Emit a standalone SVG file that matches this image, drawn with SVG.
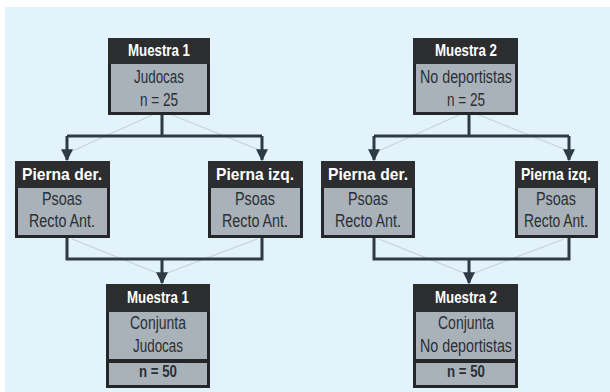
<svg xmlns="http://www.w3.org/2000/svg" width="610" height="392" viewBox="0 0 610 392">
<defs>
<marker id="ah" viewBox="0 0 10 10" refX="9" refY="5" markerWidth="4" markerHeight="4" orient="auto" markerUnits="strokeWidth">
<path d="M0,0 L10,5 L0,10 Z" fill="#2f3a44"/>
</marker>
<style>
.body{fill:#a9b1b9;stroke:#24272a;stroke-width:3}
.hdr{fill:#2c2d2f}
.ht{font-family:"Liberation Sans",Arial,sans-serif;font-weight:bold;font-size:16.5px;fill:#ffffff;text-anchor:middle}
.bt{font-family:"Liberation Sans",Arial,sans-serif;font-size:17.5px;fill:#2a2f36;text-anchor:middle}
.nb{font-family:"Liberation Sans",Arial,sans-serif;font-weight:bold;font-size:17px;fill:#2a2f36;text-anchor:middle}
.c{fill:none;stroke:#2f3a44;stroke-width:3}
.ca{fill:none;stroke:#2f3a44;stroke-width:3;marker-end:url(#ah)}
.f{fill:none;stroke:#c6d3dc;stroke-width:1.2}
</style>
</defs>
<rect x="5" y="7" width="605" height="385" fill="#e2f3fc"/>

<g id="connectors">
<path class="f" d="M152,115 L68,153 M172,115 L262,151"/>
<path class="f" d="M459,115 L374,153 M479,115 L569,151"/>
<path class="f" d="M72,239 L162,275 M257,239 L162,275"/>
<path class="f" d="M379,239 L469,275 M564,239 L469,275"/>
<path class="c" d="M162,115 V136 M67,136 H262"/>
<path class="ca" d="M67,136 V160"/>
<path class="ca" d="M262,136 V160"/>
<path class="c" d="M469,115 V136 M374,136 H569"/>
<path class="ca" d="M374,136 V160"/>
<path class="ca" d="M569,136 V160"/>
<path class="c" d="M67,238 V259 H262 V238"/>
<path class="ca" d="M162,259 V283"/>
<path class="c" d="M374,238 V259 H569 V238"/>
<path class="ca" d="M469,259 V283"/>
</g>

<g id="muestra1">
<rect class="body" x="109.5" y="39.5" width="99" height="74"/>
<rect class="hdr" x="108" y="38" width="102" height="26"/>
<text class="ht" x="159" y="56" textLength="62" lengthAdjust="spacingAndGlyphs">Muestra 1</text>
<text class="bt" x="159" y="83" textLength="50" lengthAdjust="spacingAndGlyphs">Judocas</text>
<text class="bt" x="159" y="106" textLength="38" lengthAdjust="spacingAndGlyphs">n = 25</text>
</g>

<g id="muestra2">
<rect class="body" x="414.5" y="39.5" width="102" height="74"/>
<rect class="hdr" x="413" y="38" width="105" height="26"/>
<text class="ht" x="466" y="56" textLength="62" lengthAdjust="spacingAndGlyphs">Muestra 2</text>
<text class="bt" x="466" y="83" textLength="92" lengthAdjust="spacingAndGlyphs">No deportistas</text>
<text class="bt" x="466" y="106" textLength="38" lengthAdjust="spacingAndGlyphs">n = 25</text>
</g>

<g id="m1-der">
<rect class="body" x="16.5" y="162.5" width="92" height="74"/>
<rect class="hdr" x="15" y="161" width="95" height="27"/>
<text class="ht" x="62" y="180" textLength="80" lengthAdjust="spacingAndGlyphs">Pierna der.</text>
<text class="bt" x="62" y="205" textLength="40" lengthAdjust="spacingAndGlyphs">Psoas</text>
<text class="bt" x="62" y="227" textLength="66" lengthAdjust="spacingAndGlyphs">Recto Ant.</text>
</g>

<g id="m1-izq">
<rect class="body" x="209.5" y="162.5" width="92" height="74"/>
<rect class="hdr" x="208" y="161" width="95" height="27"/>
<text class="ht" x="255" y="180" textLength="78" lengthAdjust="spacingAndGlyphs">Pierna izq.</text>
<text class="bt" x="255" y="205" textLength="40" lengthAdjust="spacingAndGlyphs">Psoas</text>
<text class="bt" x="255" y="227" textLength="66" lengthAdjust="spacingAndGlyphs">Recto Ant.</text>
</g>

<g id="m2-der">
<rect class="body" x="322.5" y="162.5" width="91" height="74"/>
<rect class="hdr" x="321" y="161" width="94" height="27"/>
<text class="ht" x="368" y="180" textLength="80" lengthAdjust="spacingAndGlyphs">Pierna der.</text>
<text class="bt" x="368" y="205" textLength="40" lengthAdjust="spacingAndGlyphs">Psoas</text>
<text class="bt" x="368" y="227" textLength="66" lengthAdjust="spacingAndGlyphs">Recto Ant.</text>
</g>

<g id="m2-izq">
<rect class="body" x="516.5" y="162.5" width="80" height="74"/>
<rect class="hdr" x="515" y="161" width="83" height="27"/>
<text class="ht" x="556" y="180" textLength="70" lengthAdjust="spacingAndGlyphs">Pierna izq.</text>
<text class="bt" x="556" y="205" textLength="40" lengthAdjust="spacingAndGlyphs">Psoas</text>
<text class="bt" x="556" y="227" textLength="64" lengthAdjust="spacingAndGlyphs">Recto Ant.</text>
</g>

<g id="conjunta1">
<rect class="body" x="107.5" y="285.5" width="101" height="101"/>
<rect class="hdr" x="106" y="284" width="104" height="28"/>
<line x1="106" y1="361" x2="210" y2="361" stroke="#24272a" stroke-width="4"/>
<text class="ht" x="158" y="303" textLength="62" lengthAdjust="spacingAndGlyphs">Muestra 1</text>
<text class="bt" x="158" y="329" textLength="56" lengthAdjust="spacingAndGlyphs">Conjunta</text>
<text class="bt" x="158" y="352" textLength="50" lengthAdjust="spacingAndGlyphs">Judocas</text>
<text class="nb" x="158" y="377" textLength="38" lengthAdjust="spacingAndGlyphs">n = 50</text>
</g>

<g id="conjunta2">
<rect class="body" x="414.5" y="285.5" width="102" height="101"/>
<rect class="hdr" x="413" y="284" width="105" height="28"/>
<line x1="413" y1="361" x2="518" y2="361" stroke="#24272a" stroke-width="4"/>
<text class="ht" x="466" y="303" textLength="62" lengthAdjust="spacingAndGlyphs">Muestra 2</text>
<text class="bt" x="466" y="329" textLength="56" lengthAdjust="spacingAndGlyphs">Conjunta</text>
<text class="bt" x="466" y="352" textLength="92" lengthAdjust="spacingAndGlyphs">No deportistas</text>
<text class="nb" x="466" y="377" textLength="38" lengthAdjust="spacingAndGlyphs">n = 50</text>
</g>
</svg>
